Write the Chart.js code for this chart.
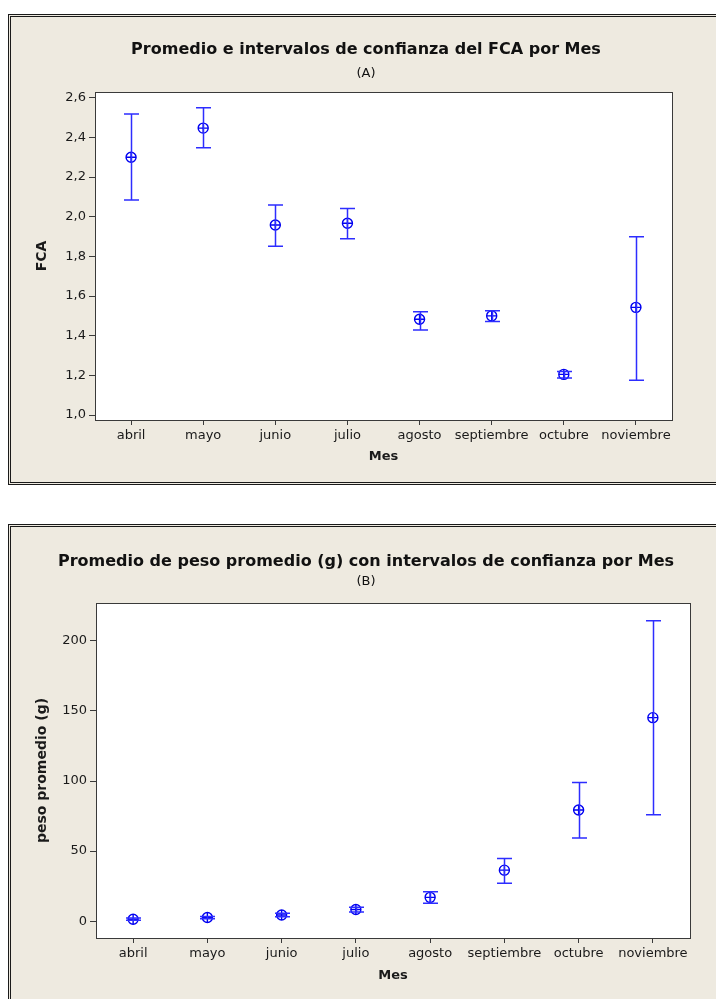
<!DOCTYPE html>
<html>
<head>
<meta charset="utf-8">
<script src="https://cdn.jsdelivr.net/npm/chart.js@4.4.1/dist/chart.umd.min.js"></script>
<style>
  html, body { margin: 0; padding: 0; background: #fff; width: 716px; height: 999px; overflow: hidden; }
  .panel { position: absolute; left: 8px; width: 724px; background: #eeeae0; border: 3px double #1a1a1a; box-sizing: border-box; }
  #pA { top: 14px; height: 471px; }
  #pB { top: 524px; height: 490px; }
  canvas { position: absolute; }
  #cA { left: 16px; top: 17px; }
  #cB { left: 16px; top: 527px; }
</style>
</head>
<body>
<div class="panel" id="pA"></div>
<div class="panel" id="pB"></div>
<canvas id="cA" width="700" height="463"></canvas>
<canvas id="cB" width="700" height="472"></canvas>
<script>
// datos
var meses = ['abril', 'mayo', 'junio', 'julio', 'agosto', 'septiembre', 'octubre', 'noviembre'];

var fcaMedia = [2.30, 2.447, 1.958, 1.967, 1.483, 1.50, 1.205, 1.543];
var fcaInf   = [2.084, 2.348, 1.851, 1.889, 1.429, 1.472, 1.187, 1.175];
var fcaSup   = [2.518, 2.55, 2.059, 2.041, 1.521, 1.526, 1.22, 1.899];
var fcaTicks = [1.0, 1.2, 1.4, 1.6, 1.8, 2.0, 2.2, 2.4, 2.6];

var pesoMedia = [1.4, 2.6, 4.4, 8.3, 17.0, 36.4, 79.3, 145.2];
var pesoInf   = [0.6, 1.8, 3.2, 6.6, 12.8, 27.1, 59.3, 75.9];
var pesoSup   = [2.2, 3.4, 5.6, 10.0, 21.0, 44.7, 99.0, 214.3];
var pesoTicks = [0, 50, 100, 150, 200];

var AZUL = '#0000f0';
Chart.defaults.font.family = 'DejaVu Sans';
Chart.defaults.color = '#1a1a1a';

// barras de error (intervalos de confianza)
function barrasError(inf, sup) {
  return {
    id: 'barrasError',
    afterDatasetsDraw: function (chart) {
      var ctx = chart.ctx, x = chart.scales.x, y = chart.scales.y;
      ctx.save();
      ctx.strokeStyle = '#2d2dff';
      ctx.lineWidth = 1.5;
      inf.forEach(function (lo, i) {
        var px = Math.round(x.getPixelForValue(i)) + 0.5;
        var y1 = y.getPixelForValue(lo), y2 = y.getPixelForValue(sup[i]);
        ctx.beginPath();
        ctx.moveTo(px, y1); ctx.lineTo(px, y2);
        ctx.moveTo(px - 7.5, y1); ctx.lineTo(px + 7.5, y1);
        ctx.moveTo(px - 7.5, y2); ctx.lineTo(px + 7.5, y2);
        ctx.stroke();
      });
      ctx.restore();
    }
  };
}

// fondo blanco y marco del área de trazado
var marco = {
  id: 'marco',
  beforeDraw: function (chart) {
    var a = chart.chartArea, ctx = chart.ctx;
    ctx.save();
    ctx.fillStyle = '#fff';
    ctx.fillRect(a.left, a.top, a.right - a.left, a.bottom - a.top);
    ctx.restore();
  },
  afterDraw: function (chart) {
    var a = chart.chartArea, ctx = chart.ctx;
    ctx.save();
    ctx.strokeStyle = '#3a3a3a';
    ctx.lineWidth = 1;
    ctx.strokeRect(Math.round(a.left) + 0.5, Math.round(a.top) + 0.5, Math.round(a.right - a.left), Math.round(a.bottom - a.top));
    ctx.restore();
  }
};

function grafico(id, cfg) {
  return new Chart(document.getElementById(id), {
    type: 'line',
    data: {
      labels: meses,
      datasets: [
        { data: cfg.media, showLine: false, pointStyle: 'circle', pointRadius: 5, borderColor: AZUL, backgroundColor: 'rgba(0,0,0,0)', pointBorderWidth: 1.4 },
        { data: cfg.media, showLine: false, pointStyle: 'cross', pointRadius: 5, borderColor: AZUL, pointBorderWidth: 1.4 }
      ]
    },
    options: {
      responsive: false,
      animation: false,
      events: [],
      layout: { padding: 0 },
      plugins: {
        legend: { display: false },
        tooltip: { enabled: false },
        title: {
          display: true, text: cfg.titulo, color: '#111',
          font: { size: 16, weight: 'bold', lineHeight: 1.2 },
          padding: { top: cfg.tituloArriba, bottom: 0 }
        },
        subtitle: {
          display: true, text: cfg.sub, color: '#111',
          font: { size: 13, lineHeight: 1.2 },
          padding: { top: cfg.subArriba, bottom: cfg.subAbajo }
        }
      },
      scales: {
        x: {
          type: 'category', offset: true,
          grid: { display: true, offset: false, drawOnChartArea: false, drawTicks: true, tickLength: 5, color: '#3a3a3a' },
          border: { display: true, color: '#3a3a3a' },
          ticks: { font: { size: 13 }, padding: 3, maxRotation: 0, autoSkip: false },
          title: { display: true, text: 'Mes', font: { size: 13, weight: 'bold', lineHeight: 1.2 }, padding: { top: 0, bottom: 16 } },
          afterFit: function (s) { s.height = cfg.altoX; }
        },
        y: {
          min: cfg.min, max: cfg.max,
          grid: { display: true, drawOnChartArea: false, drawTicks: true, tickLength: 6, color: '#3a3a3a' },
          border: { display: true, color: '#3a3a3a' },
          ticks: { font: { size: 13 }, padding: 3, includeBounds: false, callback: cfg.formato },
          afterBuildTicks: function (s) { s.ticks = cfg.ticks.map(function (v) { return { value: v }; }); },
          title: { display: true, text: cfg.tituloY, font: { size: 14, weight: 'bold', lineHeight: 1.2 }, padding: { top: 18, bottom: 0 } },
          afterFit: function (s) { s.width = cfg.anchoY; }
        },
        derecha: {
          position: 'right', display: true,
          grid: { display: false }, border: { display: false }, ticks: { display: false },
          afterFit: function (s) { s.width = cfg.anchoDer; }
        }
      }
    },
    plugins: [marco, barrasError(cfg.inf, cfg.sup)]
  });
}

grafico('cA', {
  titulo: 'Promedio e intervalos de confianza del FCA por Mes', sub: '(A)',
  tituloArriba: 23.4, subArriba: 6.6, subAbajo: 10.2,
  media: fcaMedia, inf: fcaInf, sup: fcaSup, ticks: fcaTicks,
  min: 0.975, max: 2.629, tituloY: 'FCA',
  formato: function (v) { return v.toFixed(1).replace('.', ','); },
  altoX: 60, anchoY: 79, anchoDer: 44
});

grafico('cB', {
  titulo: 'Promedio de peso promedio (g) con intervalos de confianza por Mes', sub: '(B)',
  tituloArriba: 25.4, subArriba: 2.6, subAbajo: 13.2,
  media: pesoMedia, inf: pesoInf, sup: pesoSup, ticks: pesoTicks,
  min: -12, max: 227, tituloY: 'peso promedio (g)',
  formato: function (v) { return String(v); },
  altoX: 61, anchoY: 80, anchoDer: 26
});
</script>
</body>
</html>
